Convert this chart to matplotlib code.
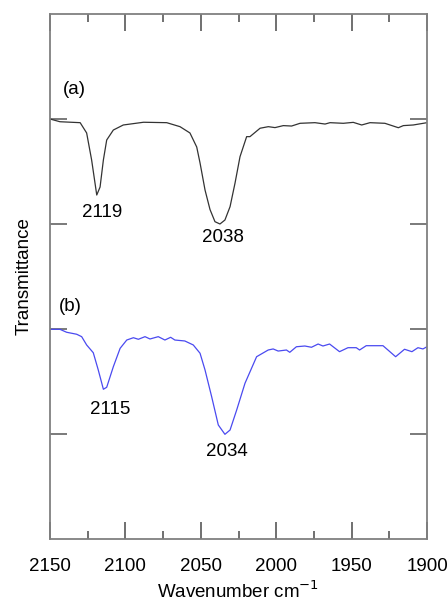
import numpy as np
import matplotlib.pyplot as plt
from matplotlib.ticker import MultipleLocator

plt.rcParams['font.family'] = ['Liberation Sans', 'DejaVu Sans']

# spektr (a)
wn_a = [2150, 2143.4, 2130, 2125.7, 2122.4, 2119, 2116.8, 2114.6, 2112.4, 2108,
        2101.4, 2088, 2072.6, 2063.8, 2057.2, 2052.7, 2050.5, 2047.2, 2043.9,
        2040.6, 2037.3, 2034, 2030.6, 2027.3, 2024, 2019.6, 2017.4, 2010.7,
        2005.2, 2000.8, 1995.3, 1989.8, 1984.2, 1974.3, 1967.6, 1964.3, 1955.5,
        1948.9, 1943.3, 1937.8, 1927.9, 1919, 1915.7, 1909.1, 1900]
t_a = [4.0, 3.974, 3.965, 3.867, 3.61, 3.276, 3.352, 3.61, 3.80, 3.895,
       3.943, 3.969, 3.965, 3.927, 3.867, 3.733, 3.581, 3.324, 3.138,
       3.022, 3.0, 3.038, 3.165, 3.39, 3.641, 3.832, 3.832, 3.912,
       3.927, 3.918, 3.937, 3.933, 3.959, 3.965, 3.952, 3.965, 3.959,
       3.968, 3.943, 3.965, 3.959, 3.917, 3.937, 3.943, 3.965]

# spektr (b)
wn_b = [2150, 2143.4, 2139, 2132.3, 2129, 2125.7, 2121.3, 2118, 2114.6, 2112.4,
        2108, 2103.5, 2099.1, 2094.7, 2091.4, 2087, 2083.7, 2078.2, 2073.8,
        2070, 2067.2, 2060.6, 2055, 2050.5, 2047.2, 2042.8, 2038.4, 2034,
        2030.6, 2026.2, 2020.7, 2013, 2005.3, 2002, 1998.7, 1993.2, 1991,
        1986.6, 1981, 1976.6, 1972.2, 1969, 1964.6, 1958, 1952.4, 1946.9,
        1944.7, 1940.3, 1929.2, 1925.9, 1920.8, 1914.9, 1910, 1906, 1902.7, 1900]
t_b = [1.997, 1.997, 1.969, 1.950, 1.927, 1.848, 1.774, 1.610, 1.426, 1.445,
       1.641, 1.816, 1.895, 1.917, 1.902, 1.927, 1.905, 1.927, 1.895,
       1.921, 1.895, 1.886, 1.848, 1.769, 1.610, 1.355, 1.086, 0.997,
       1.038, 1.229, 1.483, 1.736, 1.8, 1.810, 1.790, 1.8, 1.778,
       1.831, 1.838, 1.826, 1.857, 1.838, 1.857, 1.784, 1.822, 1.822,
       1.8, 1.841, 1.841, 1.8, 1.736, 1.807, 1.784, 1.822, 1.810, 1.831]

# piikide sildid
peaks = [("2119", 2115.5, 3.105), ("2038", 2035.3, 2.867),
         ("2115", 2110.2, 1.238), ("2034", 2032.6, 0.829)]

fig = plt.figure(figsize=(4.47, 6.02), dpi=100)
ax = fig.add_axes([50/447, 1 - 539/602, 377/447, 525/602])

ax.plot(wn_a, t_a, color='#333333', lw=0.9)
ax.plot(wn_b, t_b, color='#4a4af0', lw=0.9)

fs = 13.5
for txt, x, y in peaks:
    ax.text(x, y, txt, ha='center', va='center', fontsize=fs)
ax.text(2141.5, 4.28, "(a)", ha='left', va='center', fontsize=fs)
ax.text(2144, 2.21, "(b)", ha='left', va='center', fontsize=fs)

ax.set_xlim(2150, 1900)
ax.set_ylim(0, 5)
ax.set_yticks([1, 2, 3, 4])
ax.set_yticklabels([])
ax.xaxis.set_major_locator(MultipleLocator(50))
ax.xaxis.set_minor_locator(MultipleLocator(25))

for s in ax.spines.values():
    s.set_color('#808080')
    s.set_linewidth(1.3)
ax.tick_params(axis='x', which='major', direction='in', length=12, width=1.4,
               color='#707070', top=True, bottom=True, labelsize=fs, pad=14)
ax.tick_params(axis='x', which='minor', direction='in', length=6, width=1.4,
               color='#707070', top=True, bottom=True)
ax.tick_params(axis='y', which='major', direction='in', length=12, width=1.3,
               color='#707070', left=True, right=True)

ax.set_xlabel("Wavenumber cm$^{-1}$", fontsize=fs, labelpad=4)
ax.set_ylabel("Transmittance", fontsize=fs, labelpad=9)

plt.savefig("out.png", dpi=100)
